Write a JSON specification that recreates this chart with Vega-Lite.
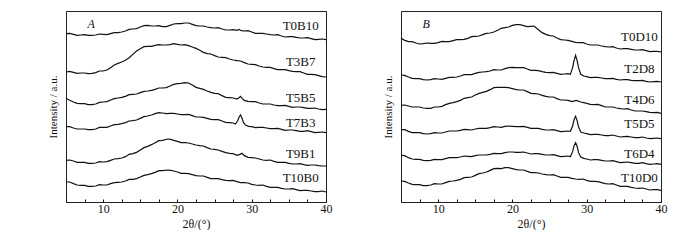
{
  "$schema": "https://vega.github.io/schema/vega-lite/v6.json",
  "padding": {"left": 46, "top": 10, "right": 5, "bottom": 0},
  "spacing": 48,
  "config": {
    "view": {"stroke": "#222", "strokeWidth": 1},
    "font": "Liberation Serif"
  },
  "datasets": {
    "curves": [
      {"p": "A", "s": "T0B10",
       "x": [5,5.5,6,6.5,7,7.5,8,8.5,9,9.5,10,10.5,11,11.5,12,12.5,13,13.5,14,14.5,15,15.5,16,16.5,17,17.5,18,18.5,19,19.5,20,20.5,21,21.5,22,22.5,23,23.5,24,24.5,25,25.5,26,26.5,27,27.5,28,28.3,28.6,29,29.5,30,30.5,31,31.5,32,32.5,33,33.5,34,34.5,35,35.5,36,36.5,37,37.5,38,38.5,39,39.5,40],
       "y": [502,503,500,497,498,499,497,497,498,501,500,499,502,505,505,507,510,515,516,517,522,526,527,525,525,526,523,523,527,531,532,532,534,534,530,526,525,525,522,520,519,520,516,513,513,514,512,515,511,510,511,507,503,503,503,501,499,498,499,495,492,493,493,491,489,489,490,487,484,485,486,484]},
      {"p": "A", "s": "T3B7",
       "x": [5,5.5,6,6.5,7,7.5,8,8.5,9,9.5,10,10.5,11,11.5,12,12.5,13,13.5,14,14.5,15,15.5,16,16.5,17,17.5,18,18.5,19,19.5,20,20.5,21,21.5,22,22.5,23,23.5,24,24.5,25,25.5,26,26.5,27,27.5,28,28.5,29,29.5,30,30.5,31,31.5,32,32.5,33,33.5,34,34.5,35,35.5,36,36.5,37,37.5,38,38.5,39,39.5,40],
       "y": [387,389,386,383,384,384,382,383,385,390,390,393,400,408,413,417,422,430,440,450,457,463,464,464,467,469,468,468,469,472,470,468,469,466,462,458,452,446,442,441,436,432,431,430,426,423,421,420,415,411,410,409,405,402,401,401,397,394,394,394,391,389,388,388,384,380,380,379,376,373,372]},
      {"p": "A", "s": "T5B5",
       "x": [5,5.5,6,6.5,7,7.5,8,8.5,9,9.5,10,10.5,11,11.5,12,12.5,13,13.5,14,14.5,15,15.5,16,16.5,17,17.5,18,18.5,19,19.5,20,20.5,21,21.5,22,22.5,23,23.5,24,24.5,25,25.5,26,26.5,27,27.5,28,28.3,28.5,28.7,29,29.5,30,30.5,31,31.5,32,32.5,33,33.5,34,34.5,35,35.5,36,36.5,37,37.5,38,38.5,39,39.5,40],
       "y": [308,302,297,293,292,292,289,289,291,296,297,298,303,307,309,311,314,319,320,321,325,329,330,332,335,339,339,340,345,350,352,353,355,354,348,341,338,335,330,326,323,322,316,311,310,309,306,310,314,308,302,299,298,298,294,291,291,291,288,286,286,287,284,281,282,282,280,278,278,279,276,274,275]},
      {"p": "A", "s": "T7B3",
       "x": [5,5.5,6,6.5,7,7.5,8,8.5,9,9.5,10,10.5,11,11.5,12,12.5,13,13.5,14,14.5,15,15.5,16,16.5,17,17.5,18,18.5,19,19.5,20,20.5,21,21.5,22,22.5,23,23.5,24,24.5,25,25.5,26,26.5,27,27.5,27.8,28.1,28.3,28.5,28.7,28.9,29.2,29.6,30,30.5,31,31.5,32,32.5,33,33.5,34,34.5,35,35.5,36,36.5,37,37.5,38,38.5,39,39.5,40],
       "y": [223,223,219,216,216,216,214,214,216,221,221,221,225,229,230,232,235,240,241,243,248,253,255,258,262,265,264,262,263,263,261,259,259,260,256,252,252,251,248,245,244,244,240,236,235,234,231,240,252,258,248,235,227,224,223,220,221,221,219,217,217,218,215,212,213,213,211,209,209,211,208,205,206,207,205]},
      {"p": "A", "s": "T9B1",
       "x": [5,5.5,6,6.5,7,7.5,8,8.5,9,9.5,10,10.5,11,11.5,12,12.5,13,13.5,14,14.5,15,15.5,16,16.5,17,17.5,18,18.7,19.1,19.5,20,20.5,21,21.5,22,22.5,23,23.5,24,24.5,25,25.5,26,26.5,27,27.5,28,28.4,28.7,29,29.5,30,30.5,31,31.5,32,32.5,33,33.5,34,34.5,35,35.5,36,36.5,37,37.5,38,38.5,39,39.5,40],
       "y": [122,123,120,116,116,116,113,113,114,118,117,118,122,126,127,129,133,140,142,146,153,160,164,169,175,181,182,186,185,182,179,175,175,174,171,168,166,165,160,156,155,153,149,145,143,142,137,140,143,136,131,130,129,126,123,122,123,119,116,116,116,113,111,111,112,109,107,108,108,106,105,105]},
      {"p": "A", "s": "T10B0",
       "x": [5,5.5,6,6.5,7,7.5,8,8.5,9,9.5,10,10.5,11,11.5,12,12.5,13,13.5,14,14.5,15,15.5,16,16.5,17,17.5,18,18.7,19.1,19.5,20,20.5,21,21.5,22,22.5,23,23.5,24,24.5,25,25.5,26,26.5,27,27.5,28,28.5,29,29.5,30,30.5,31,31.5,32,32.5,33,33.5,34,34.5,35,35.5,36,36.5,37,37.5,38,38.5,39,39.5,40],
       "y": [57,57,52,48,47,47,44,44,45,49,48,48,52,55,56,57,60,65,65,67,72,77,79,82,86,91,91,93,92,90,87,83,83,82,79,76,75,75,71,67,67,67,64,62,61,62,58,55,55,54,50,48,47,48,44,41,41,41,38,36,36,37,34,31,32,32,30,28,28,30,27]},
      {"p": "B", "s": "T0D10",
       "x": [5,5.5,6,6.5,7,7.5,8,8.5,9,9.5,10,10.5,11,11.5,12,12.5,13,13.5,14,14.5,15,15.5,16,16.5,17,17.5,18,18.5,19,19.5,20,20.5,21,21.5,22,22.5,22.9,23.5,24,24.5,25,25.5,26,26.5,27,27.5,28,28.5,29,29.5,30,30.5,31,31.5,32,32.5,33,33.5,34,34.5,35,35.5,36,36.5,37,37.5,38,38.5,39,39.5,40],
       "y": [488,482,478,478,474,471,472,474,473,473,475,479,478,478,481,484,484,485,488,493,494,495,499,503,504,507,512,518,520,522,527,529,529,526,523,524,525,514,505,500,496,495,489,484,483,482,479,476,475,475,471,468,468,468,465,463,462,463,459,456,457,457,455,453,453,454,451,448,449,449,447]},
      {"p": "B", "s": "T2D8",
       "x": [5,5.5,6,6.5,7,7.5,8,8.5,9,9.5,10,10.5,11,11.5,12,12.5,13,13.5,14,14.5,15,15.5,16,16.5,17,17.5,18,18.5,19,19.5,20,20.5,21,21.5,22,22.5,23,23.5,24,24.5,25,25.5,26,26.5,27,27.5,27.8,28.1,28.3,28.5,28.7,28.9,29.2,29.6,30,30.5,31,31.5,32,32.5,33,33.5,34,34.5,35,35.5,36,36.5,37,37.5,38,38.5,39,39.5,40],
       "y": [378,377,372,368,367,367,364,363,364,367,366,365,368,371,371,372,375,379,379,379,383,386,387,388,390,394,393,393,397,400,401,400,400,400,396,392,392,391,388,386,385,386,383,380,381,382,380,400,422,437,422,400,380,375,373,370,371,371,369,367,367,368,365,363,364,364,362,361,361,362,359,357,358,359,357]},
      {"p": "B", "s": "T4D6",
       "x": [5,5.5,6,6.5,7,7.5,8,8.5,9,9.5,10,10.5,11,11.5,12,12.5,13,13.5,14,14.5,15,15.5,16,16.5,17,17.5,18,18.5,19,19.5,20,20.5,21,21.5,22,22.5,23,23.5,24,24.5,25,25.5,26,26.5,27,27.5,28,28.6,29.2,29.6,30,30.5,31,31.5,32,32.5,33,33.5,34,34.5,35,35.5,36,36.5,37,37.5,38,38.5,39,39.5,40],
       "y": [287,288,285,282,282,282,279,278,278,282,282,284,289,293,295,298,302,308,310,312,318,323,326,329,334,340,341,341,341,340,337,334,333,333,328,323,322,321,317,314,312,312,307,303,303,302,298,302,297,295,293,290,289,290,286,282,282,282,279,277,276,277,273,270,270,270,268,266,265,266,263]},
      {"p": "B", "s": "T5D5",
       "x": [5,5.5,6,6.5,7,7.5,8,8.5,9,9.5,10,10.5,11,11.5,12,12.5,13,13.5,14,14.5,15,15.5,16,16.5,17,17.5,18,18.5,19,19.5,20,20.5,21,21.5,22,22.5,23,23.5,24,24.5,25,25.5,26,26.5,27,27.5,27.8,28.1,28.3,28.5,28.7,28.9,29.2,29.6,30,30.5,31,31.5,32,32.5,33,33.5,34,34.5,35,35.5,36,36.5,37,37.5,38,38.5,39,39.5,40],
       "y": [214,214,209,205,205,205,202,201,202,205,204,204,207,210,210,210,212,215,214,213,216,218,218,218,220,223,222,221,224,225,224,223,223,224,221,218,218,218,215,213,213,214,211,208,209,210,209,225,244,254,242,222,207,204,202,199,200,200,198,196,196,198,195,192,193,194,192,190,190,192,189,187,188,189,187]},
      {"p": "B", "s": "T6D4",
       "x": [5,5.5,6,6.5,7,7.5,8,8.5,9,9.5,10,10.5,11,11.5,12,12.5,13,13.5,14,14.5,15,15.5,16,16.5,17,17.5,18,18.5,19,19.5,20,20.5,21,21.5,22,22.5,23,23.5,24,24.5,25,25.5,26,26.5,27,27.5,27.8,28.1,28.3,28.5,28.7,28.9,29.2,29.6,30,30.5,31,31.5,32,32.5,33,33.5,34,34.5,35,35.5,36,36.5,37,37.5,38,38.5,39,39.5,40],
       "y": [137,136,130,126,125,125,122,121,122,125,124,124,127,130,130,130,132,135,134,133,136,138,138,138,140,143,142,142,145,147,147,146,146,147,144,141,142,142,140,138,138,139,136,133,134,135,133,148,166,175,165,145,132,128,126,123,124,124,122,120,120,121,118,115,116,117,115,113,113,115,112,110,111,112,110]},
      {"p": "B", "s": "T10D0",
       "x": [5,5.5,6,6.5,7,7.5,8,8.5,9,9.5,10,10.5,11,11.5,12,12.5,13,13.5,14,14.5,15,15.5,16,16.5,17,17.5,18,18.5,19,19.5,20,20.5,21,21.5,22,22.5,23,23.5,24,24.5,25,25.5,26,26.5,27,27.5,28,28.5,29,29.5,30,30.5,31,31.5,32,32.5,33,33.5,34,34.5,35,35.5,36,36.5,37,37.5,38,38.5,39,39.5,40],
       "y": [60,59,54,50,49,49,46,46,48,52,51,51,55,59,60,62,65,70,71,72,77,82,84,87,92,97,98,97,100,100,97,94,93,93,89,85,85,84,81,79,78,79,75,71,71,71,68,66,65,66,62,59,59,58,55,52,51,52,48,44,44,44,41,39,38,39,36,33,34,34,32]}
    ],
    "labels": [
      {"p": "A", "s": "T0B10", "x": 36.6, "y": 524},
      {"p": "A", "s": "T3B7", "x": 36.6, "y": 417},
      {"p": "A", "s": "T5B5", "x": 36.6, "y": 310},
      {"p": "A", "s": "T7B3", "x": 36.6, "y": 233},
      {"p": "A", "s": "T9B1", "x": 36.6, "y": 142},
      {"p": "A", "s": "T10B0", "x": 36.6, "y": 70},
      {"p": "B", "s": "T0D10", "x": 37.1, "y": 493},
      {"p": "B", "s": "T2D8", "x": 37.1, "y": 397},
      {"p": "B", "s": "T4D6", "x": 37.1, "y": 303},
      {"p": "B", "s": "T5D5", "x": 37.1, "y": 232},
      {"p": "B", "s": "T6D4", "x": 37.1, "y": 142},
      {"p": "B", "s": "T10D0", "x": 37.1, "y": 70}
    ],
    "panels": [
      {"p": "A", "x": 8.4, "y": 530},
      {"p": "B", "x": 8.4, "y": 530}
    ]
  },
  "hconcat": [
    {
      "width": 260, "height": 191,
      "layer": [
        {
          "data": {"name": "curves"},
          "transform": [{"filter": "datum.p === 'A'"}, {"flatten": ["x", "y"]}],
          "mark": {"type": "line", "color": "#111", "strokeWidth": 1.2},
          "encoding": {
            "x": {"field": "x", "type": "quantitative",
              "scale": {"domain": [5, 40], "nice": false, "zero": false},
              "axis": {"values": [5,7.5,10,12.5,15,17.5,20,22.5,25,27.5,30,32.5,35,37.5,40],
                "tickCount": 30,
                "labelExpr": "datum.value % 10 == 0 ? datum.label : ''",
                "labelOverlap": false,
                "tickSize": 3, "offset": -3, "tickColor": "#111", "tickWidth": 1, "domain": false, "grid": false,
                "labelFlush": false,
                "labelFont": "Liberation Serif", "labelFontSize": 12, "labelColor": "#111", "labelPadding": 1,
                "title": "2θ/(°)", "titleFont": "Liberation Serif", "titleFontSize": 12,
                "titleFontWeight": "normal", "titleColor": "#111", "titlePadding": 4}},
            "y": {"field": "y", "type": "quantitative",
              "scale": {"domain": [-3, 570], "nice": false, "zero": false},
              "axis": {"title": "Intensity / a.u.", "ticks": false, "labels": false, "domain": false, "grid": false,
                "titleFont": "Liberation Serif", "titleFontSize": 11, "titleFontWeight": "normal",
                "titleColor": "#111", "titlePadding": 8}},
            "detail": {"field": "s"}
          }
        },
        {
          "data": {"name": "labels"},
          "transform": [{"filter": "datum.p === 'A'"}],
          "mark": {"type": "text", "font": "Liberation Serif", "fontSize": 13, "color": "#111", "align": "center", "baseline": "middle"},
          "encoding": {
            "x": {"field": "x", "type": "quantitative"},
            "y": {"field": "y", "type": "quantitative"},
            "text": {"field": "s"}
          }
        },
        {
          "data": {"name": "panels"},
          "transform": [{"filter": "datum.p === 'A'"}],
          "mark": {"type": "text", "font": "Liberation Serif", "fontSize": 12, "fontStyle": "italic", "color": "#111", "align": "center", "baseline": "middle"},
          "encoding": {
            "x": {"field": "x", "type": "quantitative"},
            "y": {"field": "y", "type": "quantitative"},
            "text": {"field": "p"}
          }
        }
      ]
    },
    {
      "width": 260, "height": 191,
      "layer": [
        {
          "data": {"name": "curves"},
          "transform": [{"filter": "datum.p === 'B'"}, {"flatten": ["x", "y"]}],
          "mark": {"type": "line", "color": "#111", "strokeWidth": 1.2},
          "encoding": {
            "x": {"field": "x", "type": "quantitative",
              "scale": {"domain": [5, 40], "nice": false, "zero": false},
              "axis": {"values": [5,7.5,10,12.5,15,17.5,20,22.5,25,27.5,30,32.5,35,37.5,40],
                "tickCount": 30,
                "labelExpr": "datum.value % 10 == 0 ? datum.label : ''",
                "labelOverlap": false,
                "tickSize": 3, "offset": -3, "tickColor": "#111", "tickWidth": 1, "domain": false, "grid": false,
                "labelFlush": false,
                "labelFont": "Liberation Serif", "labelFontSize": 12, "labelColor": "#111", "labelPadding": 1,
                "title": "2θ/(°)", "titleFont": "Liberation Serif", "titleFontSize": 12,
                "titleFontWeight": "normal", "titleColor": "#111", "titlePadding": 4}},
            "y": {"field": "y", "type": "quantitative",
              "scale": {"domain": [-3, 570], "nice": false, "zero": false},
              "axis": {"title": "Intensity / a.u.", "ticks": false, "labels": false, "domain": false, "grid": false,
                "titleFont": "Liberation Serif", "titleFontSize": 11, "titleFontWeight": "normal",
                "titleColor": "#111", "titlePadding": 8}},
            "detail": {"field": "s"}
          }
        },
        {
          "data": {"name": "labels"},
          "transform": [{"filter": "datum.p === 'B'"}],
          "mark": {"type": "text", "font": "Liberation Serif", "fontSize": 13, "color": "#111", "align": "center", "baseline": "middle"},
          "encoding": {
            "x": {"field": "x", "type": "quantitative"},
            "y": {"field": "y", "type": "quantitative"},
            "text": {"field": "s"}
          }
        },
        {
          "data": {"name": "panels"},
          "transform": [{"filter": "datum.p === 'B'"}],
          "mark": {"type": "text", "font": "Liberation Serif", "fontSize": 12, "fontStyle": "italic", "color": "#111", "align": "center", "baseline": "middle"},
          "encoding": {
            "x": {"field": "x", "type": "quantitative"},
            "y": {"field": "y", "type": "quantitative"},
            "text": {"field": "p"}
          }
        }
      ]
    }
  ]
}
